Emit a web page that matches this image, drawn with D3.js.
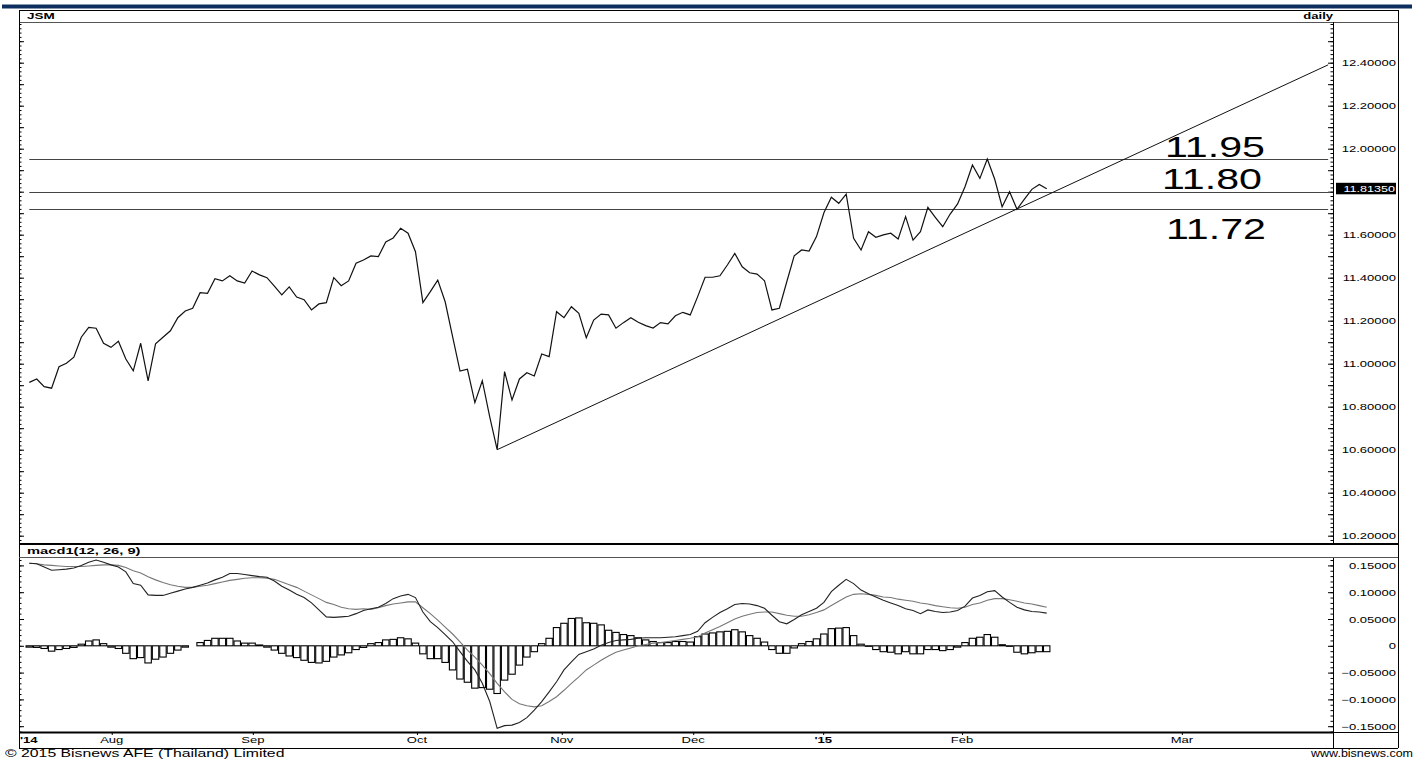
<!DOCTYPE html>
<html><head><meta charset="utf-8">
<script src="https://cdn.jsdelivr.net/npm/d3@7"></script>
<style>
body{margin:0;background:#fff;}
svg{display:block;font-family:Arial,"Liberation Sans",sans-serif;}
</style>
</head><body>
<svg id="c" width="1416" height="763"></svg>
<script>
// ---------------- data ----------------
const price = [10.913,10.929,10.893,10.886,10.986,11.002,11.030,11.123,11.169,11.165,
11.095,11.076,11.104,11.022,10.967,11.095,10.920,11.092,11.123,11.153,
11.214,11.245,11.258,11.330,11.327,11.395,11.385,11.409,11.385,11.375,
11.431,11.413,11.400,11.361,11.320,11.357,11.310,11.298,11.250,11.278,
11.284,11.400,11.363,11.385,11.467,11.482,11.501,11.498,11.566,11.585,
11.630,11.607,11.521,11.284,11.335,11.389,11.288,11.126,10.966,10.974,
10.819,10.921,10.753,10.600,10.963,10.831,10.929,10.958,10.943,11.045,
11.033,11.242,11.214,11.265,11.234,11.121,11.203,11.231,11.227,11.165,
11.191,11.214,11.193,11.177,11.166,11.191,11.185,11.223,11.239,11.227,
11.312,11.402,11.402,11.409,11.459,11.513,11.451,11.423,11.417,11.386,
11.250,11.258,11.381,11.502,11.529,11.524,11.591,11.702,11.774,11.746,
11.789,11.583,11.529,11.614,11.588,11.599,11.607,11.580,11.684,11.575,
11.614,11.727,11.681,11.637,11.696,11.743,11.823,11.924,11.862,11.952,
11.858,11.730,11.800,11.718,11.765,11.811,11.834,11.8135];

const macd = [0.154,0.153,0.147,0.141,0.142,0.143,0.145,0.150,0.156,0.160,
0.156,0.151,0.147,0.138,0.116,0.113,0.095,0.094,0.094,0.098,
0.102,0.106,0.109,0.113,0.117,0.123,0.128,0.135,0.135,0.133,
0.131,0.129,0.128,0.121,0.111,0.104,0.096,0.090,0.080,0.067,
0.054,0.053,0.054,0.055,0.060,0.066,0.069,0.072,0.079,0.088,
0.093,0.096,0.090,0.063,0.045,0.034,0.021,0.0075,-0.011,-0.029,
-0.045,-0.070,-0.104,-0.154,-0.149,-0.148,-0.143,-0.134,-0.120,-0.104,
-0.086,-0.067,-0.045,-0.030,-0.016,-0.011,-0.006,0.001,0.006,0.010,
0.011,0.012,0.014,0.015,0.015,0.015,0.016,0.017,0.019,0.021,
0.027,0.043,0.053,0.062,0.069,0.077,0.079,0.078,0.075,0.070,
0.057,0.045,0.041,0.049,0.058,0.064,0.070,0.081,0.101,0.113,
0.124,0.116,0.104,0.097,0.091,0.085,0.080,0.075,0.069,0.066,
0.060,0.067,0.064,0.062,0.063,0.066,0.074,0.089,0.094,0.101,
0.103,0.091,0.081,0.072,0.067,0.064,0.063,0.061];

const signal = [0.154,0.153,0.151,0.150,0.149,0.148,0.148,0.148,0.149,0.150,
0.151,0.151,0.150,0.146,0.140,0.136,0.129,0.123,0.118,0.114,
0.111,0.109,0.109,0.111,0.113,0.116,0.119,0.122,0.124,0.126,
0.127,0.127,0.126,0.124,0.119,0.114,0.109,0.102,0.095,0.088,
0.081,0.077,0.072,0.069,0.068,0.069,0.068,0.071,0.075,0.078,
0.080,0.082,0.082,0.071,0.060,0.048,0.035,0.022,0.0075,-0.008,
-0.021,-0.036,-0.052,-0.070,-0.086,-0.100,-0.108,-0.112,-0.114,-0.112,
-0.104,-0.095,-0.083,-0.070,-0.058,-0.045,-0.036,-0.027,-0.019,-0.012,
-0.008,-0.004,0.000,0.0025,0.005,0.006,0.008,0.010,0.012,0.014,
0.017,0.024,0.030,0.036,0.043,0.050,0.055,0.059,0.062,0.063,
0.063,0.060,0.057,0.055,0.055,0.058,0.062,0.067,0.075,0.083,
0.091,0.096,0.097,0.096,0.094,0.091,0.090,0.087,0.085,0.083,
0.080,0.078,0.075,0.073,0.071,0.070,0.072,0.077,0.080,0.085,
0.088,0.088,0.086,0.083,0.080,0.078,0.075,0.072];

const hist = [-0.0025,-0.003,-0.005,-0.010,-0.007,-0.005,-0.003,0.003,0.009,0.011,
0.004,-0.0025,-0.005,-0.014,-0.024,-0.022,-0.032,-0.025,-0.021,-0.014,
-0.008,-0.0025,0,0.006,0.010,0.014,0.014,0.014,0.009,0.005,
0.005,0.0015,-0.0025,-0.008,-0.014,-0.019,-0.022,-0.027,-0.031,-0.032,
-0.029,-0.021,-0.017,-0.013,-0.007,-0.003,0.004,0.006,0.011,0.012,
0.015,0.013,0.005,-0.015,-0.024,-0.024,-0.031,-0.045,-0.062,-0.068,
-0.079,-0.078,-0.081,-0.089,-0.064,-0.053,-0.036,-0.021,-0.011,0.004,
0.014,0.034,0.042,0.051,0.052,0.043,0.042,0.039,0.029,0.025,
0.021,0.019,0.015,0.011,0.008,0.006,0.006,0.008,0.008,0.007,
0.017,0.022,0.024,0.026,0.027,0.030,0.026,0.019,0.014,0.007,
-0.007,-0.014,-0.014,-0.004,0.004,0.008,0.013,0.022,0.032,0.033,
0.034,0.019,0.003,-0.001,-0.007,-0.011,-0.012,-0.015,-0.011,-0.015,
-0.015,-0.007,-0.007,-0.009,-0.007,-0.0025,0.006,0.014,0.016,0.021,
0.016,0.002,-0.001,-0.012,-0.015,-0.013,-0.011,-0.011];

const priceTicks = [10.2,10.4,10.6,10.8,11.0,11.2,11.4,11.6,11.8,12.0,12.2,12.4];
const macdTicks = [-0.15,-0.10,-0.05,0,0.05,0.10,0.15];
const monthLabels = ["Aug","Sep","Oct","Nov","Dec","'15","Feb","Mar"];
const monthIndex  = [11.1,30.1,52.2,71.7,89.4,106.9,125.6,155.2];
const levels = [11.95, 11.80, 11.72];
const levelLabels = ["11.95","11.80","11.72"];
const trendFrom = {i:63, v:10.60};
const trendTo = {i:174.9, v:12.39};
const lastPrice = 11.8135;

// ---------------- layout ----------------
const svg = d3.select("#c");
const L = 19, R = 1398, AX = 1333, LAB = 1396;
const top0 = 10, mainTop = 22, mainBot = 543, macdHead = 557, macdBot = 732, axBot = 748;
const SX = 1.45, FS = 9;

const x = d3.scaleLinear().domain([0, price.length - 1]).range([29.3, 1046.7]);
const yP = d3.scaleLinear().domain([10.2, 12.4]).range([535.7, 62.7]);
const yM = d3.scaleLinear().domain([-0.15, 0.15]).range([726.2, 565.4]);

function txt(g, px, py, s, o = {}) {
  return g.append("text")
    .attr("transform", `translate(${px},${py}) scale(${o.sx || SX},1)`)
    .attr("font-size", o.size || FS)
    .attr("text-anchor", o.anchor || "start")
    .attr("font-weight", o.weight || "normal")
    .attr("fill", o.fill || "#000")
    .text(s);
}

// navy band
svg.append("rect").attr("x", 2).attr("y", 4.5).attr("width", 1410).attr("height", 4).attr("fill", "#0c2f5f");

// clips
const defs = svg.append("defs");
defs.append("clipPath").attr("id", "cm").append("rect").attr("x", L).attr("y", mainTop).attr("width", AX - L).attr("height", mainBot - mainTop);
defs.append("clipPath").attr("id", "cd").append("rect").attr("x", L).attr("y", macdHead).attr("width", AX - L).attr("height", macdBot - macdHead);

// ---------------- main panel ----------------
const gm = svg.append("g").attr("clip-path", "url(#cm)");
levels.forEach(v => {
  gm.append("line").attr("x1", x(0)).attr("x2", x(trendTo.i)).attr("y1", Math.round(yP(v)) + 0.5).attr("y2", Math.round(yP(v)) + 0.5)
    .attr("stroke", "#444").attr("stroke-width", 1);
});
gm.append("line").attr("x1", x(trendFrom.i)).attr("y1", yP(trendFrom.v)).attr("x2", x(trendTo.i)).attr("y2", yP(trendTo.v))
  .attr("stroke", "#111").attr("stroke-width", 1);
gm.append("path").datum(price)
  .attr("d", d3.line().x((d, i) => x(i)).y(d => yP(d)))
  .attr("fill", "none").attr("stroke", "#111").attr("stroke-width", 1.2);

// big level labels
const bigPos = [[1165, 156.5], [1162, 189], [1166, 239]];
levelLabels.forEach((s, k) => {
  svg.append("text").attr("x", bigPos[k][0]).attr("y", bigPos[k][1])
    .attr("font-size", 30).attr("textLength", 100).attr("lengthAdjust", "spacingAndGlyphs")
    .attr("fill", "#000").text(s);
});

// axis ticks
const minorP = d3.range(10.18, 12.59, 0.02).map(v => +v.toFixed(2));
const majorP = d3.range(10.2, 12.51, 0.1).map(v => +v.toFixed(1));
function ticks(gx, scale, vals, size, dir) {
  const ax = (dir === "left" ? d3.axisLeft(scale) : d3.axisRight(scale)).tickValues(vals).tickSize(size).tickFormat("");
  const g = svg.append("g").attr("transform", `translate(${gx},0)`).call(ax);
  g.select(".domain").remove();
  g.selectAll("line").attr("stroke", "#000");
}
ticks(AX, yP, minorP, 2.5, "left");
ticks(AX, yP, majorP, 5, "left");
ticks(L, yP, minorP, 2.5, "right");
ticks(L, yP, majorP, 5, "right");

function labels(scale, vals, fmt) {
  const g = svg.append("g").attr("transform", `translate(${AX},0)`)
    .call(d3.axisRight(scale).tickValues(vals).tickSize(0).tickFormat(fmt));
  g.select(".domain").remove();
  g.attr("font-size", null).attr("font-family", null);
  g.selectAll("text").attr("x", null).attr("dy", "0.34em").attr("text-anchor", "end")
    .attr("font-size", FS).attr("fill", "#000").attr("transform", `translate(${LAB - AX},0) scale(${SX},1)`);
}
// the last-price marker hides the tick label it sits on
labels(yP, priceTicks.filter(v => Math.abs(yP(v) - yP(lastPrice)) > 10), d3.format(".5f"));

// last price box
svg.append("rect").attr("x", AX + 3).attr("y", yP(lastPrice) - 6).attr("width", LAB - AX - 3).attr("height", 11.5).attr("fill", "#000");
txt(svg, LAB - 1, yP(lastPrice) + 3.2, d3.format(".5f")(lastPrice), {anchor: "end", fill: "#fff", sx: 1.4});

// ---------------- MACD panel ----------------
const gd = svg.append("g").attr("clip-path", "url(#cd)");
const bw = (x(1) - x(0));
gd.selectAll("rect.h").data(hist).join("rect").attr("class", "h")
  .attr("x", (d, i) => x(i) - bw / 2 + 0.5)
  .attr("width", bw - 1)
  .attr("y", d => Math.min(yM(d), yM(0)))
  .attr("height", d => Math.abs(yM(d) - yM(0)))
  .attr("fill", "#fff").attr("stroke", d => d === 0 ? "none" : "#000").attr("stroke-width", 1.1);
gd.append("path").datum(signal)
  .attr("d", d3.line().x((d, i) => x(i)).y(d => yM(d)))
  .attr("fill", "none").attr("stroke", "#777").attr("stroke-width", 1.1);
gd.append("path").datum(macd)
  .attr("d", d3.line().x((d, i) => x(i)).y(d => yM(d)))
  .attr("fill", "none").attr("stroke", "#222").attr("stroke-width", 1.1);

const minorM = d3.range(-0.16, 0.161, 0.01).map(v => +v.toFixed(2));
ticks(AX, yM, minorM, 2.5, "left");
ticks(AX, yM, macdTicks, 5, "left");
ticks(L, yM, minorM, 2.5, "right");
ticks(L, yM, macdTicks, 5, "right");
labels(yM, macdTicks, v => v === 0 ? "0" : d3.format(".5f")(v));

// ---------------- x axis ----------------
const gx = svg.append("g").attr("transform", `translate(0,${macdBot})`)
  .call(d3.axisBottom(x).tickValues(monthIndex).tickSize(3).tickFormat(""));
gx.select(".domain").remove();
gx.selectAll("line").attr("stroke", "#000");
monthLabels.forEach((s, k) => {
  txt(svg, x(monthIndex[k]), 742.5, s, {anchor: "middle", weight: s.startsWith("'") ? "bold" : "normal"});
});
txt(svg, L + 1, 742.5, "'14", {weight: "bold"});

// ---------------- frames ----------------
const fr = svg.append("g").attr("stroke", "#000").attr("fill", "none");
fr.append("line").attr("x1", L).attr("x2", R).attr("y1", top0 + 0.5).attr("y2", top0 + 0.5);
fr.append("line").attr("x1", L).attr("x2", R).attr("y1", mainTop + 0.5).attr("y2", mainTop + 0.5).attr("stroke", "#555");
fr.append("line").attr("x1", L + 0.5).attr("x2", L + 0.5).attr("y1", top0).attr("y2", axBot);
fr.append("line").attr("x1", R + 0.5).attr("x2", R + 0.5).attr("y1", top0).attr("y2", axBot);
fr.append("line").attr("x1", AX + 0.5).attr("x2", AX + 0.5).attr("y1", mainTop).attr("y2", mainBot);
fr.append("line").attr("x1", AX + 0.5).attr("x2", AX + 0.5).attr("y1", macdHead).attr("y2", axBot);
fr.append("line").attr("x1", L).attr("x2", R).attr("y1", mainBot + 1).attr("y2", mainBot + 1).attr("stroke-width", 2);
fr.append("line").attr("x1", L).attr("x2", R).attr("y1", macdHead + 0.5).attr("y2", macdHead + 0.5).attr("stroke", "#555");
fr.append("line").attr("x1", L).attr("x2", AX).attr("y1", macdBot + 0.5).attr("y2", macdBot + 0.5).attr("stroke-width", 2);
fr.append("line").attr("x1", AX).attr("x2", R).attr("y1", macdBot + 0.5).attr("y2", macdBot + 0.5);
fr.append("line").attr("x1", L).attr("x2", R).attr("y1", axBot + 0.5).attr("y2", axBot + 0.5);

// ---------------- headers & footer ----------------
txt(svg, 27, 19.3, "JSM", {weight: "bold", sx: 1.5});
txt(svg, AX, 19.3, "daily", {weight: "bold", anchor: "end"});
txt(svg, 27, 554, "macd1(12, 26, 9)", {weight: "bold", sx: 1.5, size: 9.8});
txt(svg, 5, 756.5, "\u00a9 2015 Bisnews AFE (Thailand) Limited", {size: 10, sx: 1.58});
txt(svg, 1413, 757, "www.bisnews.com", {anchor: "end", size: 10, sx: 1.25});
</script>
</body></html>
